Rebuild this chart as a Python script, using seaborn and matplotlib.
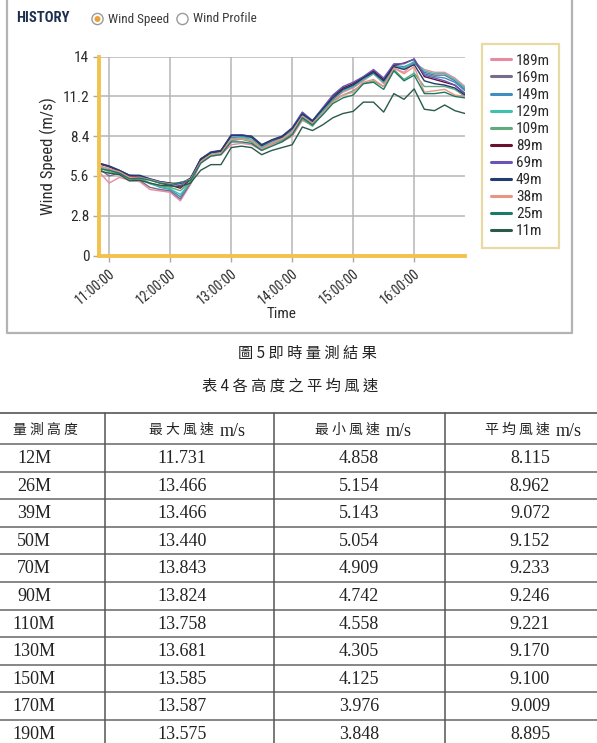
import matplotlib
matplotlib.use('Agg')
import matplotlib.pyplot as plt
import seaborn as sns
import pandas as pd
from matplotlib import font_manager
import matplotlib.dates as mdates
from matplotlib.patches import Circle

# ---------------- data ----------------
times = pd.date_range('2024-01-01 10:50', '2024-01-01 16:50', freq='10min')
heights = ['189m', '169m', '149m', '129m', '109m', '89m', '69m', '49m', '38m', '25m', '11m']
colors = ['#e98ba0', '#786c8c', '#3f8ebf', '#3fc0b0', '#62a97c', '#6a0f2f',
          '#6a55b5', '#1f3d6e', '#ea9582', '#1e7a68', '#2a5a4a']

s189 = [5.9, 5.1, 5.5, 5.3, 5.2, 4.65, 4.55, 4.45, 3.85, 5.0, 6.5, 7.0, 7.1, 7.8, 7.9, 7.8, 7.4, 7.8, 8.0, 8.4,
        9.5, 9.2, 10.1, 11.0, 11.5, 11.8, 12.3, 12.8, 12.1, 13.2, 12.9, 13.58, 13.1, 12.9, 12.9, 12.5, 11.9]
s169 = [6.1, 5.6, 5.8, 5.4, 5.3, 4.8, 4.65, 4.55, 3.98, 5.1, 6.6, 7.1, 7.2, 8.1, 8.2, 8.1, 7.6, 7.9, 8.1, 8.6,
        9.7, 9.3, 10.2, 11.0, 11.6, 11.9, 12.4, 12.9, 12.2, 13.3, 13.2, 13.59, 12.9, 12.7, 12.7, 12.3, 11.7]
s149 = [6.3, 6.1, 5.9, 5.5, 5.45, 5.1, 4.8, 4.65, 4.13, 5.2, 6.75, 7.25, 7.35, 8.3, 8.35, 8.3, 7.7, 8.05, 8.3, 8.8,
        9.9, 9.4, 10.3, 11.2, 11.7, 12.0, 12.5, 12.9, 12.3, 13.4, 13.3, 13.59, 12.8, 12.6, 12.5, 12.2, 11.6]
s129 = [6.2, 6.0, 5.85, 5.45, 5.4, 5.05, 4.85, 4.7, 4.3, 5.15, 6.7, 7.2, 7.3, 8.2, 8.3, 8.2, 7.6, 8.0, 8.2, 8.7,
        9.8, 9.3, 10.2, 11.1, 11.6, 11.9, 12.4, 12.8, 12.2, 13.3, 13.2, 13.68, 13.0, 12.8, 12.8, 12.4, 11.8]
s109 = [6.2, 5.9, 5.8, 5.45, 5.4, 5.1, 4.9, 4.8, 4.56, 5.2, 6.6, 7.1, 7.2, 8.1, 8.2, 8.0, 7.5, 7.9, 8.1, 8.6,
        9.6, 9.1, 10.0, 10.9, 11.3, 11.6, 12.1, 12.3, 11.9, 13.1, 12.4, 12.85, 11.9, 11.9, 11.9, 11.7, 11.2]
s89 = [6.45, 6.25, 5.95, 5.6, 5.55, 5.35, 5.1, 4.95, 4.74, 5.35, 6.75, 7.25, 7.35, 8.45, 8.5, 8.35, 7.75, 8.1, 8.35, 8.95,
       10.05, 9.45, 10.35, 11.25, 11.8, 12.1, 12.55, 13.0, 12.4, 13.4, 13.55, 13.82, 12.6, 12.4, 12.2, 12.0, 11.4]
s69 = [6.5, 6.3, 6.0, 5.65, 5.6, 5.4, 5.2, 5.1, 4.91, 5.4, 6.8, 7.3, 7.4, 8.5, 8.5, 8.4, 7.8, 8.1, 8.4, 9.0,
       10.1, 9.5, 10.4, 11.3, 11.9, 12.2, 12.6, 13.1, 12.5, 13.5, 13.5, 13.84, 12.7, 12.5, 12.3, 12.0, 11.4]
s49 = [6.5, 6.3, 6.0, 5.65, 5.65, 5.4, 5.2, 5.1, 5.05, 5.45, 6.8, 7.25, 7.4, 8.45, 8.45, 8.4, 7.8, 8.15, 8.4, 8.95,
       9.95, 9.5, 10.3, 11.1, 11.7, 12.0, 12.5, 12.9, 12.3, 13.3, 13.1, 13.44, 12.3, 12.1, 12.0, 11.8, 11.3]
s38 = [6.3, 6.1, 5.9, 5.5, 5.5, 5.35, 5.15, 5.05, 5.14, 5.35, 6.6, 7.1, 7.2, 8.2, 8.2, 8.1, 7.5, 7.9, 8.2, 8.7,
       9.8, 9.3, 10.0, 10.8, 11.3, 11.5, 12.2, 12.4, 11.9, 13.2, 12.8, 13.3, 11.5, 11.6, 11.7, 11.3, 11.2]
s25 = [6.1, 6.0, 5.8, 5.4, 5.45, 5.3, 5.1, 5.0, 5.15, 5.3, 6.5, 7.0, 7.1, 8.0, 8.0, 7.9, 7.4, 7.7, 8.0, 8.5,
       9.7, 9.2, 9.9, 10.7, 11.1, 11.3, 12.1, 12.2, 11.7, 13.0, 12.3, 12.7, 11.4, 11.4, 11.5, 11.2, 11.1]
s11 = [5.95, 5.8, 5.7, 5.25, 5.3, 5.1, 4.95, 4.9, 4.86, 5.1, 6.0, 6.4, 6.4, 7.6, 7.7, 7.6, 7.1, 7.4, 7.6, 7.8,
       9.05, 8.8, 9.2, 9.7, 10.0, 10.15, 10.8, 10.8, 10.1, 11.4, 11.0, 11.73, 10.3, 10.2, 10.6, 10.2, 10.0]
series = [s189, s169, s149, s129, s109, s89, s69, s49, s38, s25, s11]

yticks = [0, 2.8, 5.6, 8.4, 11.2, 14]
ytick_labels = ['0', '2.8', '5.6', '8.4', '11.2', '14']

tbl_heights = ['12M', '26M', '39M', '50M', '70M', '90M', '110M', '130M', '150M', '170M', '190M']
tbl_max = [11.731, 13.466, 13.466, 13.440, 13.843, 13.824, 13.758, 13.681, 13.585, 13.587, 13.575]
tbl_min = [4.858, 5.154, 5.143, 5.054, 4.909, 4.742, 4.558, 4.305, 4.125, 3.976, 3.848]
tbl_avg = [8.115, 8.962, 9.072, 9.152, 9.233, 9.246, 9.221, 9.170, 9.100, 9.009, 8.895]

# ---------------- fonts ----------------
sns.set_theme(style='white')
names = {f.name for f in font_manager.fontManager.ttflist}
UI = 'Roboto'
k = 0.9
for cand in ['Liberation Sans Narrow', 'Roboto Condensed', 'Noto Sans Condensed',
             'Open Sans Condensed', 'Noto Sans SemiCondensed']:
    if cand in names:
        UI = cand
        k = 1.0
        break
plt.rcParams['font.family'] = [UI, 'DejaVu Sans']
CJK = ['Noto Sans CJK TC', 'DejaVu Sans']
SERIF = ['Liberation Serif', 'DejaVu Serif']

W, H = 597, 743
fig = plt.figure(figsize=(W / 100, H / 100), dpi=100)

# overlay in pixel coordinates
ov = fig.add_axes([0, 0, 1, 1], zorder=-1)
ov.set_xlim(0, W)
ov.set_ylim(H, 0)
ov.axis('off')

# ---------------- chart ----------------
L, R, T, B = 99, 465, 56.7, 255.5
ax = fig.add_axes([L / W, 1 - B / H, (R - L) / W, (B - T) / H])
ax.patch.set_alpha(0)

df = pd.DataFrame({
    'time': list(times) * len(heights),
    'speed': [v for s in series for v in s],
    'height': [h for h in heights for _ in times],
})
sns.lineplot(data=df, x='time', y='speed', hue='height', hue_order=heights,
             palette=dict(zip(heights, colors)), linewidth=1.0, ax=ax)

ax.set_ylim(0, 14)
ax.set_xlim(times[0], times[-1])
ax.set_yticks(yticks)
ax.set_yticklabels(ytick_labels)
ax.xaxis.set_major_locator(mdates.HourLocator())
ax.xaxis.set_major_formatter(mdates.DateFormatter('%H:%M:%S'))
ax.grid(True, color='#b5b5b5', linewidth=1.1)
ax.set_axisbelow(True)
for sp in ['top', 'right']:
    ax.spines[sp].set_visible(False)
for sp in ['left', 'bottom']:
    ax.spines[sp].set_color('#f3c24c')
    ax.spines[sp].set_linewidth(2.8)
ax.tick_params(axis='y', length=4, width=1, color='#a8a8a8', labelcolor='#2a2a2a',
               labelsize=11 * k, pad=3, left=True)
ax.tick_params(axis='x', length=4, width=1, color='#a8a8a8', labelcolor='#2a2a2a',
               labelsize=10 * k, pad=4, bottom=True)
for lab in ax.get_xticklabels():
    lab.set_rotation(40)
    lab.set_ha('right')
    lab.set_rotation_mode('anchor')

ax.set_xlabel('Time', fontsize=11 * k, color='#2a2a2a')
ax.set_ylabel('Wind Speed (m/s)', fontsize=12 * k, color='#2a2a2a')
ax.xaxis.set_label_coords((282 - L) / (R - L), (B - 314) / (B - T))
ax.xaxis.label.set_va('center')
ax.yaxis.set_label_coords((48 - L) / (R - L), 0.5)
ax.yaxis.label.set_va('center')

handles, labels = ax.get_legend_handles_labels()
ax.get_legend().remove()
for hd in handles:
    hd.set_linewidth(2.2)
leg = fig.legend(handles, labels, loc='upper left', bbox_to_anchor=(482 / W, 1 - 44.3 / H),
                 frameon=True, fancybox=False, fontsize=11 * k, handlelength=1.3,
                 handletextpad=0.3, labelspacing=0.2, borderpad=0.62, borderaxespad=0)
leg.get_frame().set_edgecolor('#e4d08c')
leg.get_frame().set_linewidth(1.6)
for t in leg.get_texts():
    t.set_color('#2a2a2a')

# panel border
ov.plot([7, 7, 572, 572], [0, 333, 333, 0], color='#b3b3b3', linewidth=1.6)

# header
ov.text(16, 18, 'HISTORY', fontsize=10.5 * k, fontweight='bold', color='#1c2f4e', va='center', ha='left')
ov.add_patch(Circle((97.5, 19), 5.6, facecolor='white', edgecolor='#9a9a9a', linewidth=1))
ov.add_patch(Circle((97.5, 19), 3.0, facecolor='#e9a23b', edgecolor='none'))
ov.text(108, 19, 'Wind Speed', fontsize=9.5 * k, color='#3a3a3a', va='center', ha='left')
ov.add_patch(Circle((182.5, 19), 5.6, facecolor='white', edgecolor='#9a9a9a', linewidth=1))
ov.text(193, 19, 'Wind Profile', fontsize=9.5 * k, color='#3a3a3a', va='center', ha='left')

# captions
ov.text(307, 353, '圖 5 即 時 量 測 結 果', fontsize=11, family=CJK, color='#222222', ha='center', va='center')
ov.text(290, 386, '表 4 各 高 度 之 平 均 風 速', fontsize=11, family=CJK, color='#222222', ha='center', va='center')

# table
top = 412.7
hline0 = 444
rowh = 27.6
col_lines = [105, 274, 445]
ov.plot([0, W], [top, top], color='#555555', linewidth=1.2)
for i in range(len(tbl_heights)):
    y = hline0 + i * rowh
    ov.plot([0, W], [y, y], color='#666666', linewidth=1.1)
for x in col_lines:
    ov.plot([x, x], [top, H], color='#555555', linewidth=1.1)

hdr_y = 430
ov.text(45, hdr_y, '量 測 高 度', fontsize=10, family=CJK, color='#222222', ha='center', va='center')
for cjk, x_end in [('最 大 風 速', 214), ('最 小 風 速', 380), ('平 均 風 速', 550)]:
    ov.text(x_end, hdr_y, cjk, fontsize=10, family=CJK, color='#222222', ha='right', va='center')
    ov.text(x_end + 6, hdr_y + 1, 'm/s', fontsize=13, family=SERIF, color='#222222', ha='left', va='center')

for i, h in enumerate(tbl_heights):
    y = hline0 + i * rowh + 14.5
    ov.text(34, y, h, fontsize=13, family=SERIF, color='#222222', ha='center', va='center')
    ov.text(182, y, f'{tbl_max[i]:.3f}', fontsize=13, family=SERIF, color='#222222', ha='center', va='center')
    ov.text(359, y, f'{tbl_min[i]:.3f}', fontsize=13, family=SERIF, color='#222222', ha='center', va='center')
    ov.text(530, y, f'{tbl_avg[i]:.3f}', fontsize=13, family=SERIF, color='#222222', ha='center', va='center')

fig.savefig('out.png', dpi=100)
